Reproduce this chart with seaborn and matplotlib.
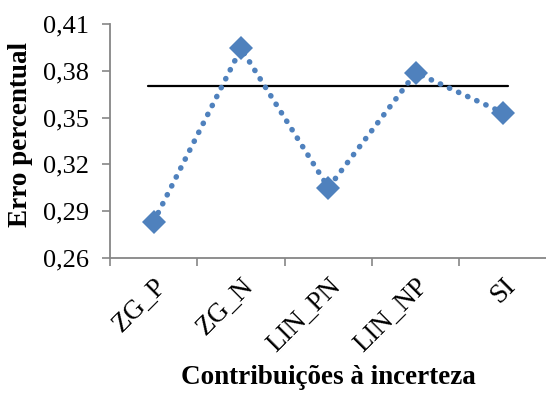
import numpy as np
import pandas as pd
import seaborn as sns
import matplotlib
matplotlib.use("Agg")
from matplotlib import pyplot as plt
from matplotlib.ticker import FixedLocator, FuncFormatter
from matplotlib.transforms import ScaledTranslation

# data
categories = ["ZG_P", "ZG_N", "LIN_PN", "LIN_NP", "SI"]
erro = [0.2833, 0.3944, 0.3051, 0.3788, 0.3531]
referencia = 0.37
y_ticks = [0.26, 0.29, 0.32, 0.35, 0.38, 0.41]

df = pd.DataFrame({"cat": categories, "erro": erro, "pos": np.arange(len(categories))})

sns.set_style("white")
plt.rcParams["font.family"] = ["Liberation Serif", "DejaVu Serif"]
plt.rcParams["text.color"] = "black"
plt.rcParams["axes.labelcolor"] = "black"
plt.rcParams["xtick.color"] = "black"
plt.rcParams["ytick.color"] = "black"

fig = plt.figure(figsize=(5.46, 3.97), dpi=100)
ax = fig.add_axes([0.2015, 0.35, 0.80, 0.5895])

blue = "#4F81BD"
# horizontal reference line (just past first/last categories)
ax.plot([df.pos.min() - 0.06, df.pos.max() + 0.06], [referencia, referencia],
        color="black", lw=1.6, zorder=2)

sns.lineplot(data=df, x="pos", y="erro", ax=ax, color=blue, lw=4,
             linestyle=(0, (0.05, 1.75)), dash_capstyle="round",
             marker="D", markersize=12, markeredgewidth=0, zorder=3)

ax.set_xlim(-0.5, len(categories) - 0.5)
ax.set_ylim(y_ticks[0], y_ticks[-1])
ax.set_yticks(y_ticks)
ax.yaxis.set_major_formatter(FuncFormatter(lambda v, p: f"{v:.2f}".replace(".", ",")))

# category labels at centres, tick marks on the boundaries
ax.set_xticks(df.pos)
ax.set_xticklabels(categories, rotation=45, ha="right", rotation_mode="anchor")
off = ScaledTranslation(0.08, 0, fig.dpi_scale_trans)
for lab in ax.get_xticklabels():
    lab.set_transform(lab.get_transform() + off)
ax.xaxis.set_minor_locator(FixedLocator(np.arange(-0.5, len(categories), 1.0)))
ax.tick_params(axis="x", which="major", length=0, pad=11, labelsize=19.5)
ax.tick_params(axis="x", which="minor", length=6, width=1.2, color="#868686", direction="out", bottom=True)
ax.tick_params(axis="y", length=6, width=1.2, color="#868686", labelcolor="black",
               direction="out", left=True, labelsize=19, pad=9)

for s in ["top", "right"]:
    ax.spines[s].set_visible(False)
for s in ["left", "bottom"]:
    ax.spines[s].set_color("#868686")
    ax.spines[s].set_linewidth(1.3)

ax.set_xlabel("Contribuições à incerteza", fontsize=19.5, fontweight="bold", labelpad=6)
ax.set_ylabel("Erro percentual", fontsize=19.5, fontweight="bold")
ax.yaxis.set_label_coords(-0.176, 0.53)
ax.grid(False)

fig.savefig("out.png", dpi=100)
